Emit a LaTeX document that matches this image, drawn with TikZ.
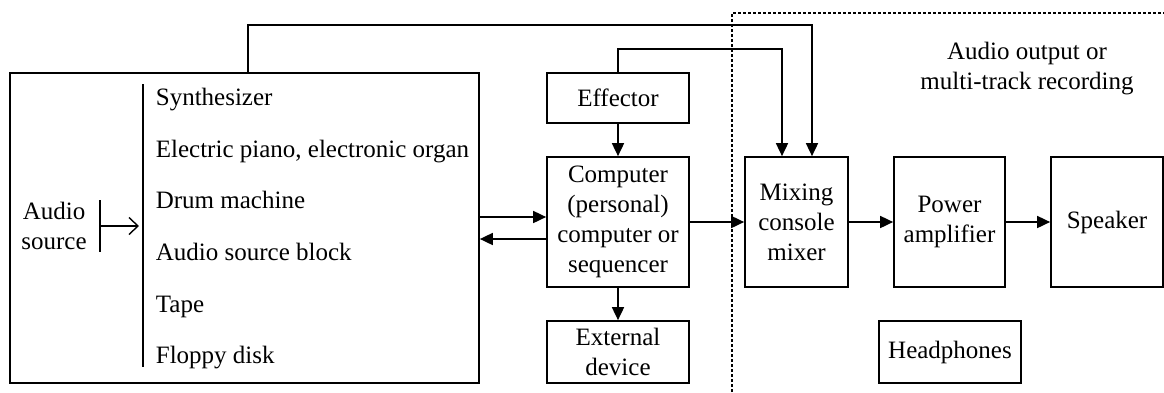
\documentclass[tikz,border=0pt]{standalone}
\usepackage{fontspec}
\setmainfont{Liberation Serif}
\usetikzlibrary{arrows.meta}
\begin{document}
\begin{tikzpicture}[x=1pt,y=-1pt,
  font=\fontsize{25}{30}\selectfont,
  line width=1.7pt,
  blk/.style={draw,align=center,inner sep=0pt},
  arr/.style={-{Triangle[length=13pt,width=12pt]}},
  oarr/.style={line width=1.4pt,-{Straight Barb[length=9pt,width=17pt,line width=1.4pt]}},
  item/.style={anchor=base west,inner sep=0pt},
  region/.style={line width=1.3pt,dash pattern=on 3pt off 2pt}]
\useasboundingbox (0,0) rectangle (1164,392);
% boxes
\node[blk,minimum width=469pt,minimum height=310pt] (big) at (244.5,228) {};
\node[blk,minimum width=142pt,minimum height=50pt] (eff) at (618,98) {Effector};
\node[blk,minimum width=142pt,minimum height=130pt] (comp) at (618,222) {Computer\\(personal)\\computer or\\sequencer};
\node[blk,minimum width=142pt,minimum height=62pt] (ext) at (618,352) {External\\device};
\node[blk,minimum width=103pt,minimum height=130pt] (mix) at (796.5,222) {Mixing\\console\\mixer};
\node[blk,minimum width=111pt,minimum height=130pt] (amp) at (949.5,222) {Power\\amplifier};
\node[blk,minimum width=112pt,minimum height=130pt] (spk) at (1107,222) {Speaker};
\node[blk,minimum width=142pt,minimum height=62pt] (head) at (950,352) {Headphones};
% inside big box
\node[align=center,inner sep=0pt] (src) at (54,226) {Audio\\source};
\coordinate (barT) at (100,200);
\coordinate (barB) at (100,252);
\coordinate (barM) at (100,226);
\coordinate (listT) at (143,84);
\coordinate (listB) at (143,367);
\coordinate (listM) at (139,226);
\draw (barT) -- (barB);
\draw[oarr] (barM) -- (listM);
\draw (listT) -- (listB);
\node[item] (i1) at (155,105) {Synthesizer};
\node[item] (i2) at (155,157) {Electric piano, electronic organ};
\node[item] (i3) at (155,208.5) {Drum machine};
\node[item] (i4) at (155,260) {Audio source block};
\node[item] (i5) at (155,312) {Tape};
\node[item] (i6) at (155,363.5) {Floppy disk};
% region label
\node[align=center,inner sep=0pt] (lbl) at (1027,69) {Audio output or\\multi-track recording};
% connectors
\draw[arr] (big.east |- 0,217) -- (comp.west |- 0,217);
\draw[arr] (comp.west |- 0,239) -- (big.east |- 0,239);
\draw[arr] (eff) -- (comp);
\draw[arr] (comp) -- (ext);
\draw[arr] (comp.east) -- (mix.west);
\draw[arr] (mix.east) -- (amp.west);
\draw[arr] (amp.east) -- (spk.west);
\draw[arr] (eff.north) |- (782,49) -- (mix.north -| 782,0);
\draw[arr] ([xshift=3.5pt]big.north) |- (812,25) -- (mix.north -| 812,0);
% dashed region
\coordinate (dB) at (732,392);
\coordinate (dC) at (732,13);
\coordinate (dR) at (1164,13);
\draw[region] (dB) -- (dC) -- (dR);
\end{tikzpicture}
\end{document}
